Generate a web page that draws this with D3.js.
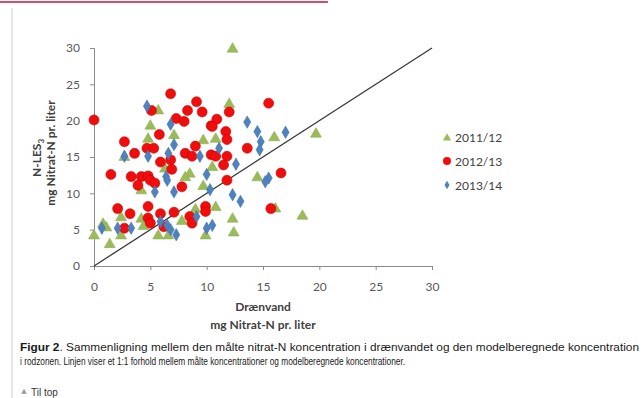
<!DOCTYPE html>
<html><head><meta charset="utf-8">
<script src="https://cdn.jsdelivr.net/npm/d3@7"></script>
<style>
html,body{margin:0;padding:0;background:#fff;overflow:hidden;}
svg{display:block;}
</style></head>
<body>
<svg id="c" width="643" height="398"></svg>
<script>
// ---- data ----
const seriesNames = ["2011/12", "2012/13", "2013/14"];
const xTicks = [0, 5, 10, 15, 20, 25, 30];
const yTicks = [0, 5, 10, 15, 20, 25, 30];

const s2011x = [12.3,5.7,12.0,5.0,4.8,7.1,9.7,10.8,16.0,19.7,2.7,6.3,8.5,10.5,14.5,8.1,9.7,4.2,0.8,1.1,0.0,1.4,2.4,4.2,2.4,4.4,5.7,6.6,7.8,9.0,9.9,10.8,12.3,12.4,16.1,18.5];
const s2011y = [30.0,21.5,22.4,19.4,17.6,18.1,17.4,17.6,17.8,18.3,15.1,13.5,12.8,13.7,12.3,12.3,11.1,10.5,5.9,5.4,4.3,3.1,4.3,6.6,6.8,5.6,4.3,4.3,6.3,7.9,4.3,8.2,6.6,4.7,8.0,7.0];

const s2012x = [0.0,6.8,9.1,8.3,9.6,5.1,7.3,8.0,10.4,15.5,12.0,10.9,10.5,11.7,11.8,5.8,2.7,4.7,5.3,3.6,5.9,6.8,6.9,8.1,9.0,8.7,10.4,13.6,10.8,11.8,11.5,16.6,1.5,3.3,4.2,4.8,5.0,3.9,5.4,7.8,11.8,2.1,3.2,4.8,4.8,5.9,5.0,7.1,8.5,8.7,9.9,9.9,2.7,6.2,15.7];
const s2012y = [20.1,23.7,22.6,21.4,21.2,21.4,20.3,19.9,19.3,22.4,21.2,20.2,19.2,18.5,17.4,18.1,17.1,16.2,16.2,15.5,14.3,14.6,13.3,15.5,16.5,15.1,15.3,16.2,15.1,15.1,13.9,12.8,12.6,12.3,12.3,12.4,11.8,11.1,11.4,10.9,11.8,7.9,7.2,8.2,6.6,7.2,5.9,7.4,6.8,5.9,8.2,7.5,5.2,5.4,7.9];

const s2013x = [4.7,6.8,7.1,6.6,2.7,4.8,9.4,10.0,6.4,13.6,14.5,17.0,14.8,14.7,11.1,12.6,15.5,0.7,2.1,3.3,5.9,6.5,6.8,7.3,9.1,10.0,6.5,5.4,7.1,10.3,15.2,12.3,13.0,10.5];
const s2013y = [22.0,19.5,16.7,15.5,15.1,15.1,15.1,12.6,12.3,19.8,18.5,18.4,17.1,16.0,16.2,14.0,12.1,5.2,5.2,5.2,6.1,5.6,5.0,4.3,6.8,5.2,11.8,10.2,10.2,10.5,11.6,9.8,8.9,5.6];

const lineXY = [0, 30]; // 1:1 line

// ---- chart ----
const svg = d3.select("#c");
const colors = ["#9bbb59", "#f00d0d", "#4f81bd"];
const x = d3.scaleLinear().domain([0, 30]).range([94, 432]);
const y = d3.scaleLinear().domain([0, 30]).range([266, 48]);

// page decoration
svg.append("line").attr("x1", 12).attr("x2", 12).attr("y1", 8).attr("y2", 398)
  .attr("stroke", "#d4d4d4").attr("stroke-width", 1.2);
svg.append("line").attr("x1", 0).attr("x2", 328).attr("y1", 2).attr("y2", 2)
  .attr("stroke", "#c0143c").attr("stroke-width", 1.5);

const tickFont = "Lato, 'Open Sans', sans-serif";

// axes
const ax = svg.append("g").attr("transform", "translate(0,266)")
  .call(d3.axisBottom(x).tickValues(xTicks).tickSize(4).tickPadding(12));
const ay = svg.append("g").attr("transform", "translate(94,0)")
  .call(d3.axisLeft(y).tickValues(yTicks).tickSize(4).tickPadding(10));
[ax, ay].forEach(g => {
  g.selectAll("path,line").attr("stroke", "#8a8a8a").attr("stroke-width", 1);
  g.selectAll("text").attr("fill", "#595959").attr("font-family", tickFont).attr("font-size", 12);
});

// 1:1 line
svg.append("line")
  .attr("x1", x(lineXY[0])).attr("y1", y(lineXY[0]))
  .attr("x2", x(lineXY[1])).attr("y2", y(lineXY[1]))
  .attr("stroke", "#3a3a3a").attr("stroke-width", 1.3);

const tri = d3.symbol().type(d3.symbolTriangle).size(52);
const dia = d3.symbol().type(d3.symbolDiamond).size(44);

function pts(xs, ys) { return xs.map((v, i) => [v, ys[i]]); }

svg.append("g").selectAll("path").data(pts(s2011x, s2011y)).join("path")
  .attr("d", tri).attr("transform", d => `translate(${x(d[0])},${y(d[1]) + 1})`)
  .attr("fill", colors[0]).attr("stroke", "#8fae55").attr("stroke-width", 0.6);
svg.append("g").selectAll("circle").data(pts(s2012x, s2012y)).join("circle")
  .attr("cx", d => x(d[0])).attr("cy", d => y(d[1])).attr("r", 5)
  .attr("fill", colors[1]).attr("stroke", "#d40000").attr("stroke-width", 0.6);
svg.append("g").selectAll("path").data(pts(s2013x, s2013y)).join("path")
  .attr("d", dia).attr("transform", d => `translate(${x(d[0])},${y(d[1])})`)
  .attr("fill", colors[2]).attr("stroke", "#4575b0").attr("stroke-width", 0.6);

// legend
const lg = svg.append("g");
const ly = [137, 161, 185];
seriesNames.forEach((n, i) => {
  const g = lg.append("g").attr("transform", `translate(447,${ly[i]})`);
  if (i === 0) g.append("path").attr("d", d3.symbol().type(d3.symbolTriangle).size(30)).attr("fill", colors[0]).attr("transform","translate(0,1)");
  if (i === 1) g.append("circle").attr("r", 4).attr("fill", colors[1]);
  if (i === 2) g.append("path").attr("d", d3.symbol().type(d3.symbolDiamond).size(22)).attr("fill", colors[2]);
  g.append("text").attr("x", 8).attr("y", 4.5).attr("fill", "#404040")
    .attr("font-family", tickFont).attr("font-size", 12).text(n);
});

// axis titles
svg.append("text").attr("x", 263).attr("y", 311).attr("text-anchor", "middle")
  .attr("font-family", tickFont).attr("font-weight", "bold").attr("font-size", 12).attr("fill", "#404040").text("Drænvand");
svg.append("text").attr("x", 263).attr("y", 329).attr("text-anchor", "middle")
  .attr("font-family", tickFont).attr("font-weight", "bold").attr("font-size", 12).attr("fill", "#404040").text("mg Nitrat-N pr. liter");

const yt1 = svg.append("text").attr("transform", "translate(41,158) rotate(-90)").attr("text-anchor", "middle")
  .attr("font-family", tickFont).attr("font-weight", "bold").attr("font-size", 12).attr("fill", "#404040");
yt1.append("tspan").text("N-LES");
yt1.append("tspan").attr("font-size", 8).attr("dy", 3).text("3");
svg.append("text").attr("transform", "translate(55,153) rotate(-90)").attr("text-anchor", "middle")
  .attr("font-family", tickFont).attr("font-weight", "bold").attr("font-size", 12).attr("fill", "#404040").text("mg Nitrat-N pr. liter");

// caption
const cap1 = svg.append("text").attr("x", 20).attr("y", 351).attr("font-family", "Liberation Sans, Arial, sans-serif")
  .attr("font-size", 10.5).attr("fill", "#1a1a1a").attr("textLength", 619).attr("lengthAdjust", "spacingAndGlyphs");
cap1.append("tspan").attr("font-weight", "bold").text("Figur 2");
cap1.append("tspan").text(". Sammenligning mellem den målte nitrat-N koncentration i drænvandet og den modelberegnede koncentration");
svg.append("text").attr("x", 20).attr("y", 365).attr("font-family", "Liberation Sans, Arial, sans-serif")
  .attr("font-size", 10.5).attr("fill", "#1a1a1a").attr("textLength", 385).attr("lengthAdjust", "spacingAndGlyphs")
  .text("i rodzonen. Linjen viser et 1:1 forhold mellem målte koncentrationer og modelberegnede koncentrationer.");

// Til top
svg.append("path").attr("d", d3.symbol().type(d3.symbolTriangle).size(14)).attr("transform", "translate(24,392)").attr("fill", "#9a9a9a");
svg.append("text").attr("x", 31).attr("y", 396).attr("font-family", "Liberation Sans, Arial, sans-serif")
  .attr("font-size", 10).attr("fill", "#333").text("Til top");
</script>
</body></html>
